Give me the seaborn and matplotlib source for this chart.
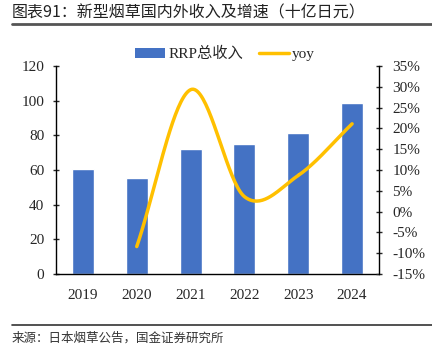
import matplotlib
matplotlib.use("Agg")
import matplotlib.pyplot as plt
from matplotlib.patches import Patch
from matplotlib.lines import Line2D
import seaborn as sns
import numpy as np
import pandas as pd

# 数据
years = ["2019", "2020", "2021", "2022", "2023", "2024"]
rrp_revenue = [60.4, 55.3, 72.2, 75.0, 81.4, 98.6]
yoy = [None, -8.4, 29.3, 3.6, 8.7, 21.1]

sns.set_style("white")
plt.rcParams['font.family'] = ['Liberation Serif', 'Noto Sans CJK SC']

blue = "#4472C4"
gold = "#FFC000"

fig = plt.figure(figsize=(4.32, 3.5), dpi=100)
ax = fig.add_axes([56 / 432, 1 - 274 / 350, (379 - 56) / 432, (274 - 66) / 350])

df = pd.DataFrame({"year": years, "rrp": rrp_revenue})
sns.barplot(data=df, x="year", y="rrp", color=blue, saturation=1, width=0.41, ax=ax)
ax.set_xlim(-0.5, 5.5)
ax.set_ylim(0, 120)
ax.set_yticks(range(0, 121, 20))
ax.set_xlabel("")
ax.set_ylabel("")
for s in ["top", "right"]:
    ax.spines[s].set_visible(False)
for s in ["left", "bottom"]:
    ax.spines[s].set_color("black")
    ax.spines[s].set_linewidth(1.0)
ax.tick_params(axis="y", direction="inout", length=5, width=1, labelsize=11, pad=6)
ax.tick_params(axis="x", which="major", length=0, labelsize=11, pad=11)
ax.set_xticks(np.arange(-0.5, 6, 1), minor=True)
ax.tick_params(axis="x", which="minor", direction="in", length=4, width=1)

# yoy 平滑曲线 (Catmull-Rom)
xs = np.arange(1, 6, dtype=float)
ys = np.array(yoy[1:], dtype=float)
px = np.concatenate([[2 * xs[0] - xs[1]], xs, [2 * xs[-1] - xs[-2]]])
py = np.concatenate([[2 * ys[0] - ys[1]], ys, [2 * ys[-1] - ys[-2]]])
cx, cy = [], []
t = np.linspace(0, 1, 40)
for i in range(1, len(px) - 2):
    for arr, out in ((px, cx), (py, cy)):
        p0, p1, p2, p3 = arr[i - 1], arr[i], arr[i + 1], arr[i + 2]
        out.extend(0.5 * (2 * p1 + (-p0 + p2) * t + (2 * p0 - 5 * p1 + 4 * p2 - p3) * t ** 2
                          + (-p0 + 3 * p1 - 3 * p2 + p3) * t ** 3))

ax2 = ax.twinx()
sns.lineplot(x=cx, y=cy, color=gold, linewidth=2.5, sort=False, estimator=None, ax=ax2)
ax2.set_xlim(-0.5, 5.5)
ax2.set_ylim(-15, 35)
ax2.set_yticks(range(-15, 36, 5))
ax2.set_yticklabels([f"{v}%" for v in range(-15, 36, 5)])
for s in ["top", "left", "bottom"]:
    ax2.spines[s].set_visible(False)
ax2.spines["right"].set_color("black")
ax2.spines["right"].set_linewidth(1.0)
ax2.tick_params(axis="y", direction="inout", length=5, width=1, labelsize=11, pad=7)

handles = [Patch(facecolor=blue, edgecolor="none"),
           Line2D([0], [0], color=gold, linewidth=2.5)]
fig.legend(handles, ["RRP总收入", "yoy"], loc="center", bbox_to_anchor=(225 / 432, 1 - 54 / 350),
           ncol=2, frameon=False, fontsize=11, handlelength=2.0, handleheight=0.6,
           columnspacing=1.0, handletextpad=0.2)

# 标题与来源
fig.text(12 / 432, 1 - 13 / 350, "图表91：新型烟草国内外收入及增速（十亿日元）",
         family=["Noto Sans CJK SC"], fontsize=11.5, style="italic",
         va="center", ha="left", color="#222222")
fig.add_artist(Line2D([12 / 432, 1], [1 - 24 / 350] * 2, color="#555555", linewidth=2))
fig.add_artist(Line2D([12 / 432, 1], [1 - 325 / 350] * 2, color="#333333", linewidth=1.2))
fig.text(12 / 432, 1 - 338 / 350, "来源：日本烟草公告，国金证券研究所",
         family=["Noto Sans CJK SC"], fontsize=9, va="center", ha="left", color="#333333")

fig.savefig("out.png", dpi=100)
